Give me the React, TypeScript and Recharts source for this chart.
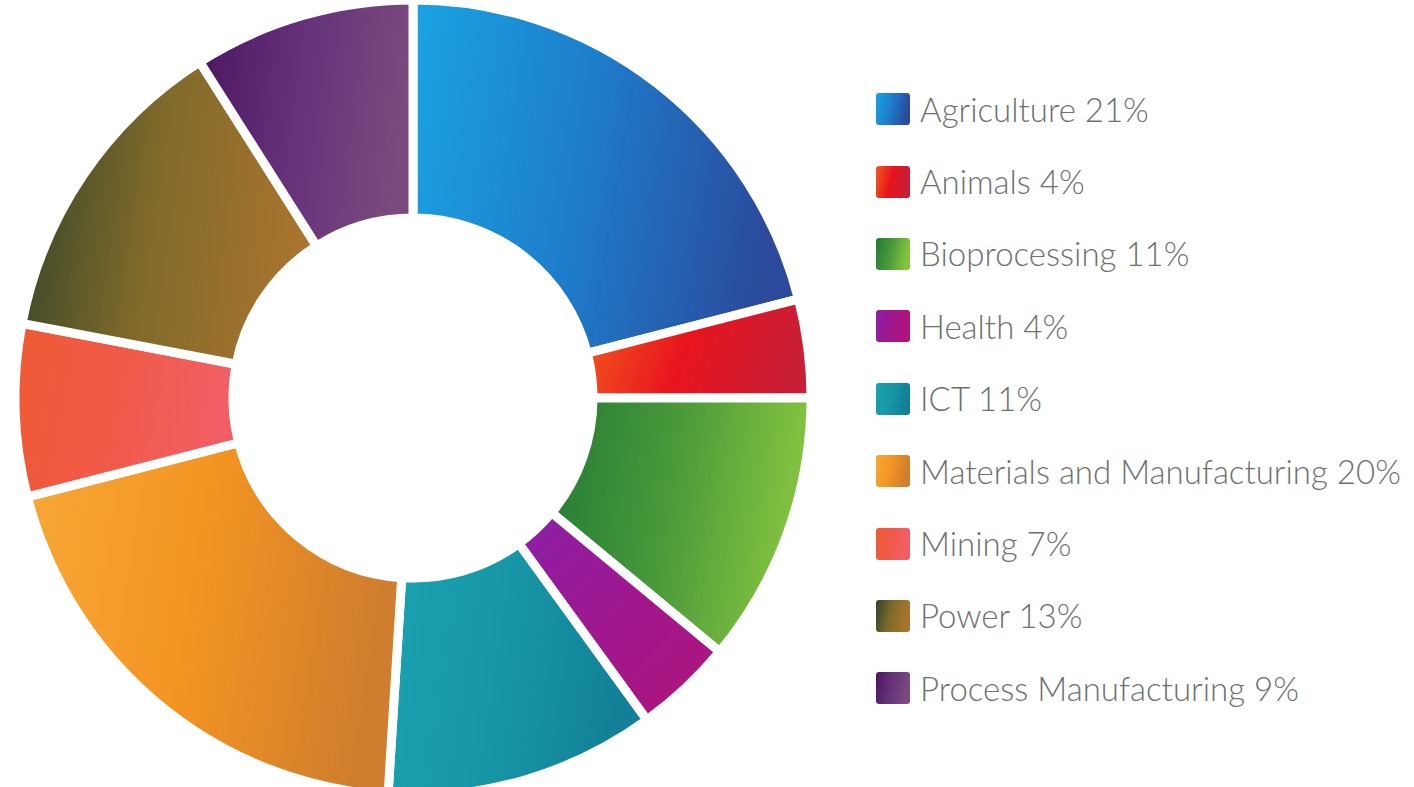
import { PieChart, Pie, Cell, Legend } from "recharts";

const sectors = [
  "Agriculture",
  "Animals",
  "Bioprocessing",
  "Health",
  "ICT",
  "Materials and Manufacturing",
  "Mining",
  "Power",
  "Process Manufacturing",
];
const shares = [21, 4, 11, 4, 11, 20, 7, 13, 9];

// gradient stops per sector, left -> right
const gradients: string[][] = [
  ["#1aa3e3", "#1e7cca", "#2b4a9c"],
  ["#f25a1e", "#e8141e", "#c81e36"],
  ["#237a35", "#4a9a3a", "#86c440"],
  ["#8a1fa8", "#a0188e", "#b0147a"],
  ["#1aa2b0", "#1796a6", "#127f96"],
  ["#f7a838", "#f39422", "#cf7d2e"],
  ["#ef5a34", "#f05a48", "#f25e66"],
  ["#30432a", "#806a2a", "#a8742e"],
  ["#4c1460", "#65327a", "#7a4a7e"],
];

const data = sectors.map((name, i) => ({ name, value: shares[i] }));

const Defs = () => (
  <defs>
    {gradients.map((g, i) => (
      <linearGradient key={i} id={`grad-${i}`} x1="0" y1="0" x2="1" y2={i === 3 ? "1" : "0.15"}>
        <stop offset="0%" stopColor={g[0]} />
        <stop offset="50%" stopColor={g[1]} />
        <stop offset="100%" stopColor={g[2]} />
      </linearGradient>
    ))}
  </defs>
);

const renderLegend = () => (
  <div style={{ display: "flex", flexDirection: "column" }}>
    {data.map((d, i) => (
      <div
        key={d.name}
        style={{ display: "flex", alignItems: "center", height: 72.4 }}
      >
        <svg width={34} height={32} style={{ marginRight: 10 }}>
          <defs>
            <linearGradient id={`lg-${i}`} x1="0" y1="0" x2="1" y2="0.2">
              <stop offset="0%" stopColor={gradients[i][0]} />
              <stop offset="50%" stopColor={gradients[i][1]} />
              <stop offset="100%" stopColor={gradients[i][2]} />
            </linearGradient>
          </defs>
          <rect x={0} y={0} width={34} height={32} rx={3} fill={`url(#lg-${i})`} />
        </svg>
        <span
          style={{
            fontFamily: "Lato, 'Open Sans', sans-serif",
            fontWeight: 300,
            fontSize: 33,
            lineHeight: 1,
            color: "#707070",
            whiteSpace: "nowrap",
          }}
        >
          {d.name} {d.value}%
        </span>
      </div>
    ))}
  </div>
);

export default function App() {
  return (
    <div
      style={{
        position: "absolute",
        top: 0,
        left: 0,
        width: 1414,
        height: 787,
        background: "#fff",
        overflow: "hidden",
      }}
    >
      <PieChart width={1414} height={787} margin={{ top: 0, right: 0, bottom: 0, left: 0 }}>
        <Defs />
        <Pie
          data={data}
          dataKey="value"
          nameKey="name"
          cx={413}
          cy={398}
          innerRadius={180}
          outerRadius={398}
          startAngle={90}
          endAngle={-270}
          stroke="#ffffff"
          strokeWidth={9}
          isAnimationActive={false}
        >
          {data.map((d, i) => (
            <Cell key={d.name} fill={`url(#grad-${i})`} />
          ))}
        </Pie>
        <Legend
          content={renderLegend}
          layout="vertical"
          align="right"
          verticalAlign="top"
          wrapperStyle={{ left: 876, top: 73, width: "auto" }}
        />
      </PieChart>
    </div>
  );
}
